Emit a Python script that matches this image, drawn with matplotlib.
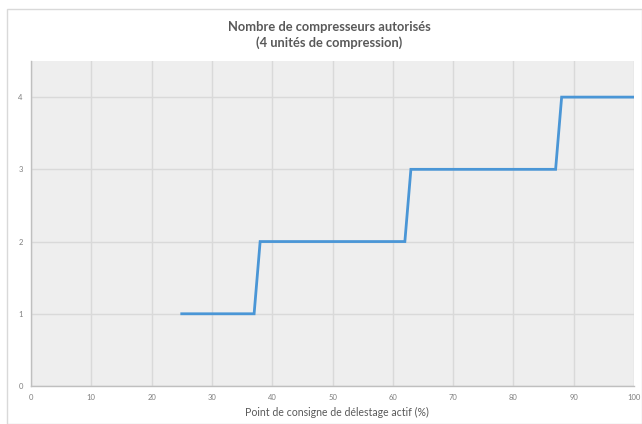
import matplotlib
matplotlib.use("Agg")
import matplotlib.pyplot as plt
from matplotlib.patches import Rectangle

x_vals = [25, 37, 38, 62, 63, 87, 88, 100]
y_vals = [1, 1, 2, 2, 3, 3, 4, 4]
x_ticks = [0, 10, 20, 30, 40, 50, 60, 70, 80, 90, 100]
y_ticks = [0, 1, 2, 3, 4]
title = "Nombre de compresseurs autorisés\n(4 unités de compression)"
xlabel = "Point de consigne de délestage actif (%)"

plt.rcParams['font.family'] = ['Lato', 'DejaVu Sans']

fig = plt.figure(figsize=(6.42, 4.24), dpi=100)
fig.patches.append(Rectangle((7/642, 0), 1 - 7/642 - 0.5/642, 1 - 9/424, transform=fig.transFigure,
                             fill=False, edgecolor='#D9D9D9', linewidth=1.0))
ax = fig.add_axes([31/642, 1 - 386/424, (634 - 31)/642, (386 - 61)/424])
ax.set_facecolor('#EEEEEE')
ax.plot(x_vals, y_vals, color='#4A96D6', linewidth=2.0, solid_joinstyle='miter')
ax.set_xlim(0, 100)
ax.set_ylim(0, 4.5)
ax.set_xticks(x_ticks)
ax.set_yticks(y_ticks)
ax.grid(True, color='#D9D9D9', linewidth=1.0)
ax.set_axisbelow(True)
for s in ['top', 'right']:
    ax.spines[s].set_visible(False)
for s in ['left', 'bottom']:
    ax.spines[s].set_color('#BFBFBF')
    ax.spines[s].set_linewidth(1.0)
ax.tick_params(length=0, labelsize=5.5, labelcolor='#7F7F7F', pad=6)
ax.set_xlabel(xlabel, fontsize=7.6, color='#595959')
ax.xaxis.set_label_coords(0.508, -0.081)
ax.xaxis.label.set_va('center')
fig.text(329/642, 1 - 35/424, title, ha='center', va='center', fontsize=9.3, fontweight='bold',
         color='#595959', linespacing=1.3)
fig.savefig("out.png", dpi=100)
